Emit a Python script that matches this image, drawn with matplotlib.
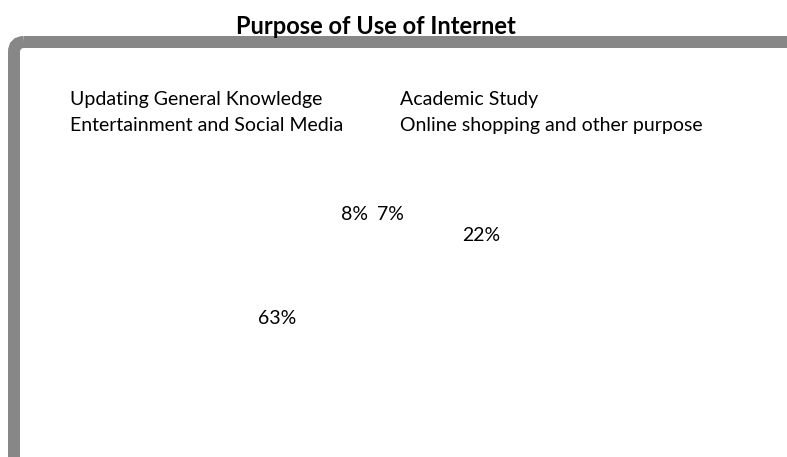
import matplotlib.pyplot as plt
from matplotlib.patches import FancyBboxPatch

plt.rcParams['font.family'] = ['Lato', 'DejaVu Sans']

purposes = ['Updating General Knowledge', 'Academic Study',
            'Entertainment and Social Media', 'Online shopping and other purpose']
shares = [22, 63, 8, 7]

# where each percentage label sits, in units of the pie radius
label_xy = [(0.573, 0.433), (-0.783, -0.123), (-0.273, 0.567), (-0.03, 0.567)]

W, H = 787, 457
fig = plt.figure(figsize=(W / 100, H / 100), dpi=100)

# background axes in pixel units for the grey chart frame
bg = fig.add_axes([0, 0, 1, 1])
bg.set_xlim(0, W)
bg.set_ylim(H, 0)
bg.axis('off')
frame = FancyBboxPatch((14, 42), 820, 480, boxstyle='round,pad=0,rounding_size=10',
                       facecolor='none', edgecolor='#878787', linewidth=12 * 72 / 100)
bg.add_patch(frame)

fig.text(376 / W, 1 - 27 / H, 'Purpose of Use of Internet', ha='center', va='center',
         fontsize=17, fontweight='bold')

# pie centred at (395, 300) px, radius 150 px
ax = fig.add_axes([245 / W, 7 / H, 300 / W, 300 / H])
wedges, texts, autotexts = ax.pie(shares, startangle=79.2, counterclock=False,
                                  colors=['white'] * 4, autopct='%d%%',
                                  textprops={'fontsize': 14})
ax.set_xlim(-1, 1)
ax.set_ylim(-1, 1)
for t, (x, y) in zip(autotexts, label_xy):
    t.set_position((x, y))
    t.set_ha('center')
    t.set_va('center')

# legend fills column by column, so reorder to read across the rows
order = [0, 2, 1, 3]
fig.legend([wedges[i] for i in order], [purposes[i] for i in order], ncol=2,
           frameon=False, fontsize=14, loc='upper left',
           bbox_to_anchor=(12 / W, 1 - 74 / H),
           handlelength=1.5, handletextpad=0.6, columnspacing=0.8, labelspacing=0.45)

fig.savefig('out.png', dpi=100)
